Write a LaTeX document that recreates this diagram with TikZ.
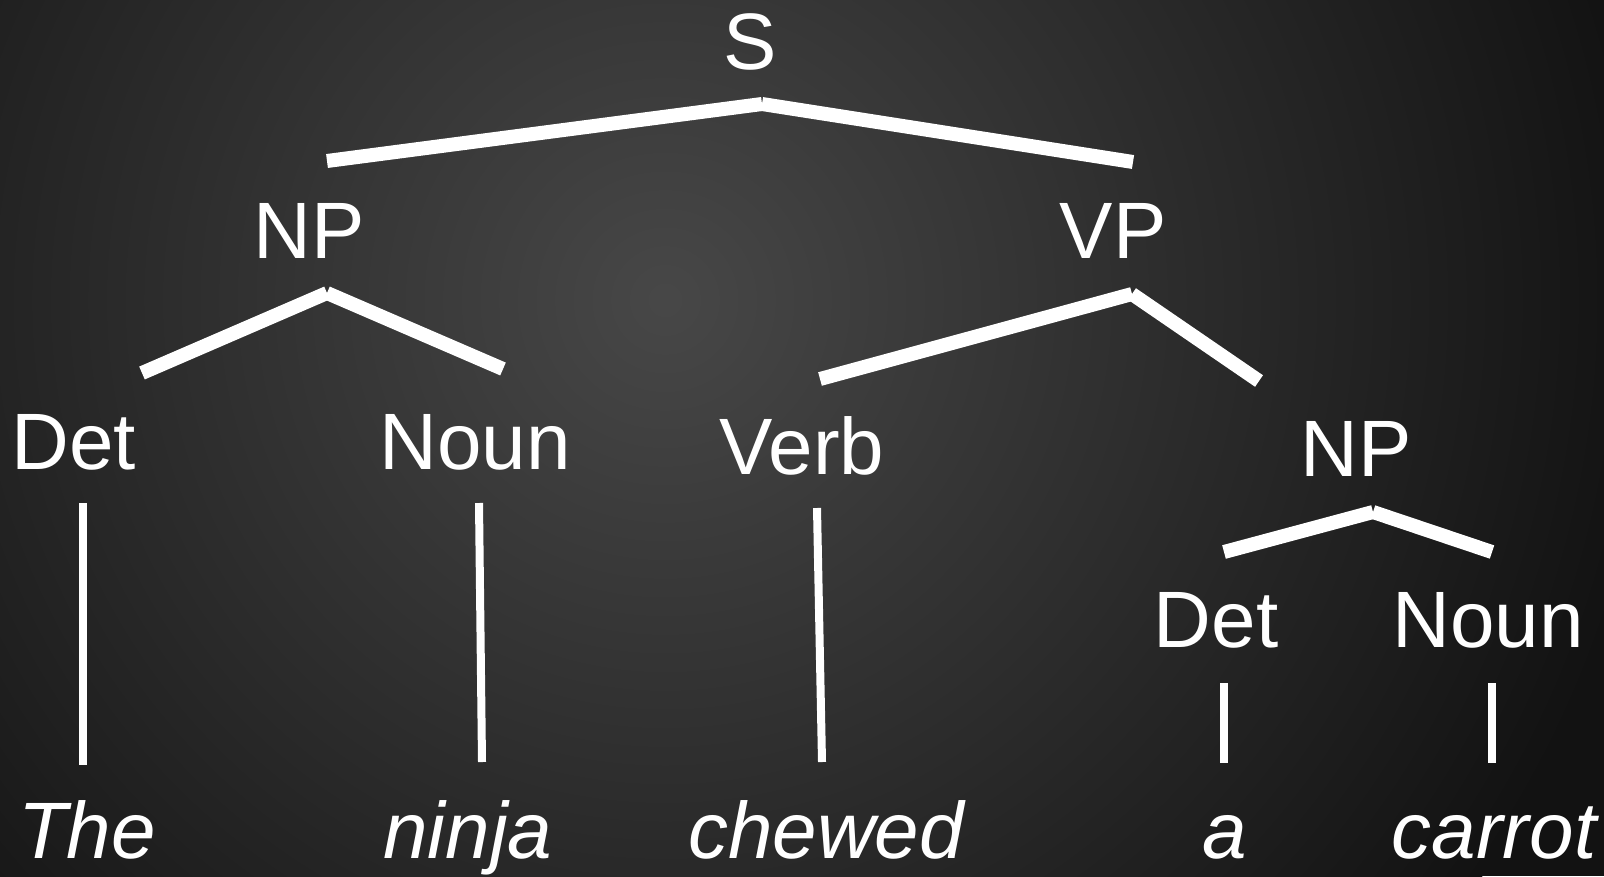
\documentclass[tikz,border=0pt]{standalone}
\usepackage{fontspec}
\setmainfont{Liberation Sans}
\usetikzlibrary{calc}

\tikzset{
  cat/.style={text=white, inner sep=0pt, anchor=base,
    font=\fontsize{80bp}{96bp}\selectfont},
  word/.style={cat, font=\fontsize{80bp}{96bp}\selectfont\itshape},
  branch/.style={draw=white, line width=14bp, line cap=butt},
  stem/.style={draw=white, line width=8bp, line cap=butt},
}

\begin{document}
\begin{tikzpicture}[x=1bp, y=-1bp]
  % background glow
  \useasboundingbox (0,0) rectangle (1604,876);
  \begin{scope}
    \clip (0,0) rectangle (1604,876);
    \fill[black!93] (0,0) rectangle (1604,876);
    \shade[inner color=black!72, outer color=black!93] (665,300) circle (1000);
  \end{scope}

  % category labels
  \node[cat] (s)    at (750,69.6) {S};
  \node[cat] (np1)  at (309,258) {NP};
  \node[cat] (vp)   at (1113,258) {VP};
  \node[cat] (det1) at (74,469) {Det};
  \node[cat] (n1)   at (475,469) {Noun};
  \node[cat] (v)    at (802,474) {Verb};
  \node[cat] (np2)  at (1356,476) {NP};
  \node[cat] (det2) at (1216,647) {Det};
  \node[cat] (n2)   at (1488,647) {Noun};

  % words
  \node[word] (w1) at (87,858) {The};
  \node[word] (w2) at (468,858) {ninja};
  \node[word] (w3) at (826,858) {chewed};
  \node[word] (w4) at (1225,858) {a};
  \node[word] (w5) at (1494,858) {carrot};

  % branch points
  \coordinate (sA) at (762,104);
  \coordinate (sL) at (327,161);
  \coordinate (sR) at (1133,162);
  \coordinate (npA) at (327,293);
  \coordinate (npL) at (142,373);
  \coordinate (npR) at (503,369);
  \coordinate (vpA) at (1132,294);
  \coordinate (vpL) at (820,379);
  \coordinate (vpR) at (1259,381);
  \coordinate (np2A) at (1373,512);
  \coordinate (np2L) at (1224,552);
  \coordinate (np2R) at (1492,552);

  % stem ends
  \coordinate (d1T) at (83,503);   \coordinate (d1B) at (83,765);
  \coordinate (n1T) at (479,503);  \coordinate (n1B) at (482,762);
  \coordinate (vT)  at (817,508);  \coordinate (vB)  at (822,762);
  \coordinate (d2T) at (1224,683); \coordinate (d2B) at (1224,763);
  \coordinate (n2T) at (1492,683); \coordinate (n2B) at (1492,763);

  % branches
  \draw[branch] (sA) -- (sL);
  \draw[branch] (sA) -- (sR);
  \draw[branch] (npA) -- (npL);
  \draw[branch] (npA) -- (npR);
  \draw[branch] (vpA) -- (vpL);
  \draw[branch] (vpA) -- (vpR);
  \draw[branch] (np2A) -- (np2L);
  \draw[branch] (np2A) -- (np2R);

  % stems to words
  \draw[stem] (d1T) -- (d1B);
  \draw[stem] (n1T) -- (n1B);
  \draw[stem] (vT) -- (vB);
  \draw[stem] (d2T) -- (d2B);
  \draw[stem] (n2T) -- (n2B);
\end{tikzpicture}
\end{document}
